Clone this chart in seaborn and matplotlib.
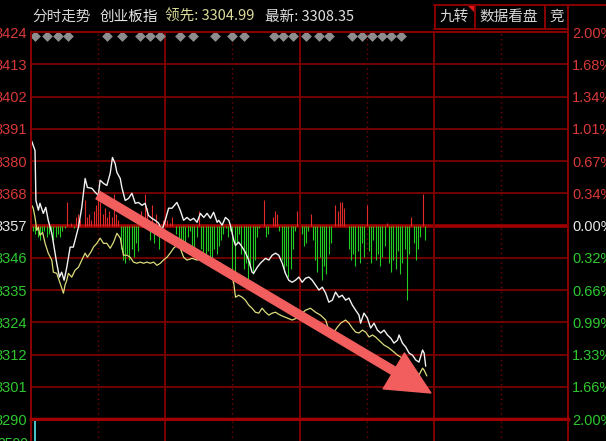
import matplotlib
matplotlib.use('Agg')
import matplotlib.pyplot as plt
import seaborn as sns
import numpy as np

sns.set_theme(style='dark', rc={'axes.facecolor': 'black', 'figure.facecolor': 'black'})
plt.rcParams['font.family'] = ['Liberation Sans', 'Noto Sans CJK SC', 'DejaVu Sans']

# ---- data ----
prev_close = 3357.2
left_labels = ['3424', '3413', '3402', '3391', '3380', '3368', '3357',
               '3346', '3335', '3324', '3312', '3301', '3290']
right_labels = ['2.00%', '1.68%', '1.34%', '1.01%', '0.67%', '0.34%', '0.00%',
                '0.32%', '0.66%', '0.99%', '1.33%', '1.66%', '2.00%']

# (minute, index) white line
white_line = [
    (0.3, 3386.5), (1.8, 3383.2), (2.2, 3365.9), (3.3, 3362.5), (4.0, 3364.9), (5.5, 3361.4),
    (6.6, 3363.5), (7.7, 3359.0), (9.3, 3354.5), (10.3, 3349.7), (11.5, 3344.1), (12.7, 3339.3),
    (13.7, 3341.0), (14.8, 3338.2), (16.0, 3342.7), (17.5, 3349.7), (18.9, 3349.7), (19.7, 3352.1),
    (21.2, 3356.6), (22.7, 3363.5), (24.2, 3373.5), (25.2, 3370.4), (27.2, 3370.1), (28.7, 3368.7),
    (30.1, 3367.7), (30.9, 3372.9), (32.4, 3371.8), (33.9, 3371.1), (35.4, 3375.3), (36.4, 3380.8),
    (37.6, 3378.7), (38.4, 3375.6), (39.9, 3373.5), (40.6, 3370.4), (42.1, 3365.9), (43.6, 3366.6),
    (45.1, 3368.4), (46.6, 3364.9), (48.0, 3365.2), (49.6, 3364.2), (51.0, 3364.9), (52.5, 3360.7),
    (54.0, 3359.7), (55.5, 3359.0), (57.0, 3358.0), (58.5, 3355.5), (60.0, 3359.0), (61.5, 3363.2),
    (63.0, 3363.2), (65.2, 3365.2), (66.7, 3362.5), (68.2, 3359.0), (69.7, 3360.0), (71.2, 3359.0),
    (72.7, 3359.7), (74.2, 3358.3), (75.7, 3361.4), (77.2, 3360.0), (78.7, 3361.4), (80.2, 3359.7),
    (81.6, 3361.8), (83.2, 3358.3), (83.9, 3359.0), (85.4, 3357.3), (86.9, 3360.0), (88.4, 3359.0),
    (89.1, 3357.3), (90.6, 3352.1), (91.4, 3350.3), (92.8, 3351.4), (94.4, 3349.7), (95.8, 3347.9),
    (97.3, 3345.2), (98.8, 3341.0), (99.5, 3340.6), (101.1, 3342.7), (102.5, 3344.1), (104.8, 3345.8),
    (106.3, 3345.2), (107.8, 3346.9), (109.3, 3347.6), (110.7, 3346.9), (112.3, 3344.1), (113.7, 3340.6),
    (115.2, 3338.2), (116.7, 3337.5), (118.2, 3338.2), (119.7, 3339.3), (121.2, 3337.5), (122.7, 3338.9),
    (124.2, 3339.3), (125.7, 3338.2), (127.2, 3336.5), (128.7, 3334.8), (130.2, 3335.8), (131.7, 3333.7),
    (133.1, 3330.6), (134.7, 3331.3), (136.1, 3334.1), (137.6, 3332.3), (139.1, 3333.0), (140.6, 3331.3),
    (142.1, 3332.0), (143.6, 3329.6), (145.1, 3327.8), (146.6, 3326.1), (147.3, 3323.3), (148.8, 3326.8),
    (150.3, 3325.1), (151.8, 3321.6), (153.3, 3323.3), (154.8, 3320.9), (156.3, 3319.9), (157.8, 3320.9),
    (159.3, 3319.2), (160.8, 3318.1), (162.2, 3316.4), (163.8, 3317.4), (164.5, 3319.2), (166.0, 3316.4),
    (167.5, 3315.0), (169.0, 3312.9), (170.5, 3312.2), (172.0, 3310.5), (173.4, 3309.8), (175.0, 3314.0),
    (175.7, 3312.9), (176.4, 3308.4),
]

# (minute, index) yellow line
yellow_line = [
    (0.3, 3364.2), (1.0, 3363.2), (1.8, 3360.0), (2.6, 3355.5), (3.3, 3356.6), (4.0, 3353.8),
    (5.2, 3354.8), (6.3, 3351.0), (7.7, 3347.6), (9.3, 3345.2), (10.0, 3341.0), (11.5, 3340.6),
    (13.0, 3337.2), (14.5, 3333.7), (15.2, 3336.5), (16.0, 3338.2), (16.7, 3340.6), (18.2, 3339.3),
    (19.7, 3341.7), (21.2, 3342.7), (22.7, 3345.2), (24.2, 3347.6), (25.2, 3346.2), (26.7, 3347.9),
    (27.9, 3349.7), (29.4, 3351.0), (30.9, 3352.8), (32.4, 3351.0), (33.9, 3351.0), (35.4, 3349.3),
    (36.9, 3351.4), (38.4, 3354.5), (39.9, 3352.8), (41.3, 3346.9), (42.9, 3346.9), (44.3, 3346.2),
    (45.8, 3344.5), (47.3, 3344.1), (48.8, 3344.5), (50.3, 3344.1), (51.8, 3344.5), (53.3, 3344.1),
    (54.8, 3344.5), (56.3, 3343.4), (57.8, 3344.1), (59.2, 3345.2), (60.8, 3346.2), (62.2, 3347.6),
    (63.7, 3349.3), (65.2, 3350.3), (66.7, 3349.3), (68.2, 3346.2), (69.7, 3345.2), (72.0, 3345.8),
    (74.2, 3345.2), (76.4, 3345.8), (78.7, 3345.2), (80.2, 3345.8), (82.4, 3344.1), (84.6, 3344.1),
    (86.9, 3342.7), (88.4, 3341.0), (89.9, 3339.3), (90.6, 3337.2), (91.4, 3332.3), (92.8, 3333.0),
    (94.4, 3332.3), (95.8, 3331.3), (97.3, 3329.6), (98.8, 3328.5), (100.3, 3327.1), (101.8, 3326.8),
    (103.3, 3328.5), (104.8, 3327.1), (106.3, 3326.1), (107.8, 3326.8), (109.3, 3327.1), (110.7, 3326.4),
    (112.3, 3325.8), (114.5, 3325.1), (116.7, 3324.4), (119.0, 3325.1), (121.2, 3326.8), (122.7, 3327.8),
    (124.9, 3328.5), (127.2, 3327.1), (129.4, 3326.1), (131.7, 3324.4), (133.1, 3320.9), (135.4, 3320.2),
    (136.9, 3321.9), (138.4, 3323.3), (140.6, 3324.4), (142.1, 3323.3), (143.6, 3321.6), (145.1, 3320.2),
    (146.6, 3319.9), (148.1, 3320.9), (149.6, 3320.2), (151.1, 3318.5), (152.6, 3319.2), (154.0, 3318.5),
    (156.3, 3316.8), (157.8, 3315.7), (160.0, 3314.7), (162.2, 3313.3), (163.8, 3312.2), (166.0, 3311.2),
    (167.5, 3309.8), (169.7, 3308.1), (172.0, 3305.3), (173.4, 3305.3), (175.0, 3307.7), (175.7, 3307.0),
    (176.9, 3305.0),
]

# red / green strength bars, one per minute from 9:30 (index points from prev close)
bar_vals = [
    0, -2, -3, -4, -5, -3, -2, -4, -3, -2,
    -5, -4, -3, -4, -2, -1, 8, 0, 1, -1,
    3, 4, 2, 0, 9, 3, 4, 2, 5, 7,
    10, 8, 4, 6, 3, 5, 3, 11, 4, 2,
    -8, -12, -13, -10, -12, -8, -11, -6, -9, 5,
    3, 11, 6, -5, 7, -6, 4, -8, -4, 2,
    3, 2, 1, 3, 0, -3, -6, -9, -7, -9,
    -4, -2, -7, -9, -4, 5, -8, -10, -12, -9,
    -11, -13, -8, -10, -7, -5, -3, -1, -4, -2,
    -18, -16, -6, -3, -10, -15, -13, -19, -14, -17,
    -12, -4, -1, 0, 9, -4, -3, 0, 3, 5,
    4, -2, -12, -16, -14, -18, -15, -8, -2, 5,
    0, -3, -7, -6, -2, 4, -5, -12, -16, -11,
    -19, -14, -17, -10, -6, 0, 7, 5, 8, 8,
    6, 0, -8, -12, -10, -14, -9, -13, -6, -11,
    7, -9, -13, -5, -12, -10, -14, -11, -7, 1,
    -13, -16, -12, -15, -9, -17, -13, -8, -26, -10,
    3, -6, -12, -8, -4, 11, -5,
]

# grey event diamonds along the top (minute)
marker_min = [1.8, 7.2, 12.1, 16.6, 34, 40.7, 48.8, 53.3, 57.8, 66.7, 72.5, 82.4,
              90, 95, 108.4, 112.8, 117.3, 123, 128.5, 133, 143.3, 147.8, 152.3,
              156.7, 160.8, 165.2]

# opening volume bar (only the top of it is visible)
vol_min = [1.8]
vol_val = [1.0]

# ---- figure ----
W, H = 606, 441
fig = plt.figure(figsize=(W / 100, H / 100), dpi=100)
fig.patch.set_facecolor('black')


def box(l, t, r, b):
    return [l / W, 1 - b / H, (r - l) / W, (b - t) / H]


RED = '#d83838'
GREEN = '#2ec82e'
GRID = '#7c0000'

lo, hi = prev_close * 0.98, prev_close * 1.02
levels = np.linspace(hi, lo, 13)

ax = fig.add_axes(box(31, 32, 568, 419))
ax.set_facecolor('black')
ax.set_xlim(0, 240)
ax.set_ylim(lo, hi)

for i, lv in enumerate(levels):
    if i == 6:
        ax.axhline(lv, color='#a00000', lw=2.6, zorder=1)
    else:
        ax.axhline(lv, color=GRID, lw=1.3, zorder=1)
for m in range(30, 240, 30):
    if m % 60 == 0:
        ax.axvline(m, color=GRID, lw=1.4, zorder=1)
    else:
        ax.axvline(m, color=GRID, lw=1.0, ls=(0, (1, 2.5)), zorder=1)

# strength bars
mins = np.arange(len(bar_vals))
vals = np.array(bar_vals, dtype=float)
up = vals > 0
dn = vals < 0
ax.vlines(mins[up], prev_close, prev_close + vals[up], colors='#e02a2a', lw=0.8, zorder=2)
ax.vlines(mins[dn], prev_close, prev_close + vals[dn], colors='#22cc22', lw=0.8, zorder=2)

wm, wp = zip(*white_line)
ym, yp = zip(*yellow_line)
sns.lineplot(x=list(ym), y=list(yp), ax=ax, color='#dcdc7c', lw=0.9,
             estimator=None, sort=False, zorder=3)
sns.lineplot(x=list(wm), y=list(wp), ax=ax, color='#f2f2f2', lw=1.0,
             estimator=None, sort=False, zorder=4)

ax.scatter(marker_min, [0.9895] * len(marker_min), transform=ax.get_xaxis_transform(),
           marker='D', s=30, color='#8e8e8e', linewidths=0, zorder=5, clip_on=False)

# trend arrow
ax.annotate('', xy=(178.7, 3299.1), xytext=(30.0, 3367.7),
            arrowprops=dict(arrowstyle='simple,head_width=3.0,head_length=3.1,tail_width=0.6',
                            mutation_scale=10, color='#f25e5e', shrinkA=0, shrinkB=0),
            zorder=6)

ax.set_xticks([])
ax.set_yticks(levels)
ax.set_yticklabels(left_labels)
lab_colors = [RED] * 6 + ['#e8e8e8'] + [GREEN] * 6
for t, c in zip(ax.get_yticklabels(), lab_colors):
    t.set_color(c)
ax.tick_params(axis='y', length=0, pad=3, labelsize=10.5)
ax.set_xlabel('')
ax.set_ylabel('')

axr = ax.twinx()
axr.set_ylim(lo, hi)
axr.set_yticks(levels)
axr.set_yticklabels(right_labels)
for t, c in zip(axr.get_yticklabels(), lab_colors):
    t.set_color(c)
axr.tick_params(axis='y', length=0, pad=3, labelsize=10.5)
axr.grid(False)
ax.grid(False)

for a in (ax, axr):
    for s in a.spines.values():
        s.set_color('#8a0000')
        s.set_linewidth(1.4)
    a.spines['bottom'].set_color('#a00000')
    a.spines['bottom'].set_linewidth(2.4)

# volume pane (only its top strip is on screen)
axv = fig.add_axes(box(31, 421, 568, 520))
axv.set_facecolor('black')
axv.set_xlim(0, 240)
axv.set_ylim(0, 1)
for m in range(30, 240, 30):
    if m % 60 == 0:
        axv.axvline(m, color=GRID, lw=1.4)
    else:
        axv.axvline(m, color=GRID, lw=1.0, ls=(0, (1, 2.5)))
axv.vlines(vol_min, 0, vol_val, colors='#48c8d0', lw=1.4)
axv.set_xticks([])
axv.set_yticks([])
axv.grid(False)
for s in axv.spines.values():
    s.set_color('#8a0000')
    s.set_linewidth(1.4)
axv.spines['top'].set_visible(False)

# header overlay
ov = fig.add_axes([0, 0, 1, 1], zorder=10)
ov.set_xlim(0, W)
ov.set_ylim(H, 0)
ov.axis('off')

cjk = ['Noto Sans CJK SC', 'DejaVu Sans']
ov.text(32, 17, '分时走势', color='#d6d6d6', fontsize=10.5, family=cjk, va='center')
ov.text(100, 17, '创业板指', color='#e6e6e6', fontsize=10.5, family=cjk, va='center')
ov.text(165, 17, '领先: 3304.99', color='#dcdc9a', fontsize=10.5, family=cjk, va='center')
ov.text(265, 17, '最新: 3308.35', color='#e0e0e0', fontsize=10.5, family=cjk, va='center')
ov.text(439, 17, '九转', color='#d6d6d6', fontsize=10.5, family=cjk, va='center')
ov.text(479, 17, '数据看盘', color='#d6d6d6', fontsize=10.5, family=cjk, va='center')
ov.text(549, 17, '竞', color='#d6d6d6', fontsize=10.5, family=cjk, va='center')
ov.text(28, 444, '2590', color=GREEN, fontsize=10, ha='right', va='center')

hdr = dict(color='#8a0000', lw=1.4)
ov.plot([434, 606], [5, 5], **hdr)
ov.plot([434, 568], [28.5, 28.5], **hdr)
for xv in (434.5, 475, 544.5):
    ov.plot([xv, xv], [5, 28.5], **hdr)
ov.plot([568, 568], [5, 32], **hdr)
ov.fill([467, 475, 475], [5, 5, 13], color='#e01818', lw=0)

fig.savefig('out.png', dpi=100, facecolor='black')
